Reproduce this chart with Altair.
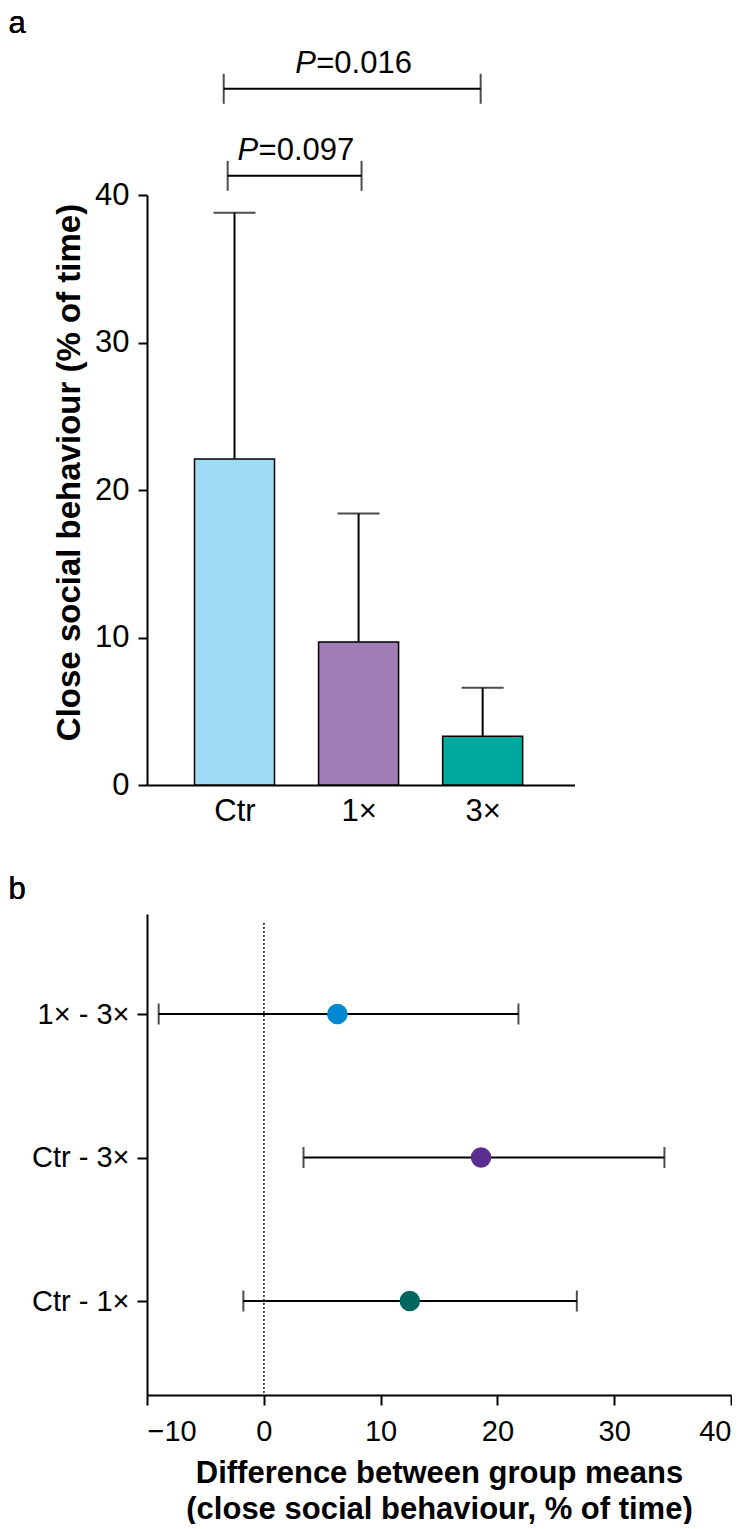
import altair as alt
import pandas as pd

FONT = "Liberation Sans, Arial, Helvetica, sans-serif"

# ---- panel a data ----
groups = ["Ctr", "1×", "3×"]
group_pos = [0, 1, 2]
means = [22.1, 9.7, 3.3]
upper = [38.8, 18.4, 6.6]
bar_colors = ["#A0DCF5", "#A27EB6", "#00A99D"]

bracket_text = ["=0.016", "=0.097"]
bracket_x1 = [-0.087, -0.055]
bracket_x2 = [1.984, 1.024]
bracket_y = [47.2, 41.3]

# ---- panel b data ----
comparisons = ["Ctr - 1×", "Ctr - 3×", "1× - 3×"]
comp_pos = [0, 1, 2]
diffs = [12.5, 18.6, 6.3]
ci_lo = [-1.75, 3.4, -9.0]
ci_hi = [26.8, 34.3, 21.8]
point_colors = ["#00665E", "#5C2D91", "#0288D1"]

A_W, A_H = 427.5, 590
B_W, B_H = 584, 481

df_a = pd.DataFrame({"pos": group_pos, "group": groups, "mean": means, "upper": upper})
df_br = pd.DataFrame({"x1": bracket_x1, "x2": bracket_x2, "y": bracket_y, "label": bracket_text})
df_b = pd.DataFrame({"pos": comp_pos, "comp": comparisons, "diff": diffs, "lo": ci_lo, "hi": ci_hi})

a_label_expr = "[" + ",".join("'%s'" % g for g in groups) + "][datum.value]"
b_label_expr = "[" + ",".join("'%s'" % c for c in comparisons) + "][datum.value]"

YT = "Close social behaviour (% of time)"
xa_scale = alt.Scale(domain=[-0.665, 2.70], nice=False, zero=False)
ya_scale = alt.Scale(domain=[0, 40], nice=False)
xa_axis = alt.Axis(values=group_pos, labelExpr=a_label_expr, ticks=False, tickSize=0,
                   labelPadding=11, labelFontSize=31, domainWidth=2, grid=False, title=None)
ya_axis = alt.Axis(values=[0, 10, 20, 30, 40], tickSize=9, tickWidth=2, labelFontSize=31,
                   labelPadding=9, title=YT, titleFontSize=33, titleY=277,
                   titleFontWeight="bold", titlePadding=8, domainWidth=2, grid=False)


def XA(f):
    return alt.X(f, type="quantitative", scale=xa_scale, axis=xa_axis, title=None)


def YA(f):
    return alt.Y(f, type="quantitative", scale=ya_scale, axis=ya_axis, title=YT)


bars = alt.Chart(df_a).mark_bar(size=80, stroke="black", strokeWidth=1.5).encode(
    x=XA("pos"), y=YA("mean"),
    color=alt.Color("group:N", scale=alt.Scale(domain=groups, range=bar_colors), legend=None),
)
err = alt.Chart(df_a).mark_rule(strokeWidth=2, color="black").encode(
    x=XA("pos"), y=YA("mean"), y2="upper:Q")
caps = alt.Chart(df_a).mark_tick(orient="horizontal", size=42, thickness=2, color="black").encode(
    x=XA("pos"), y=YA("upper"))

br_line = alt.Chart(df_br).mark_rule(strokeWidth=2, color="black").encode(
    x=XA("x1"), x2="x2:Q", y=YA("y"))
br_l = alt.Chart(df_br).mark_tick(orient="vertical", size=30, thickness=2, color="black").encode(
    x=XA("x1"), y=YA("y"))
br_r = alt.Chart(df_br).mark_tick(orient="vertical", size=30, thickness=2, color="black").encode(
    x=XA("x2"), y=YA("y"))
br_base = alt.Chart(df_br).transform_calculate(mid="(datum.x1 + datum.x2) / 2")
br_p = br_base.mark_text(text="P", align="left", baseline="alphabetic", dx=-57, dy=-16,
                         fontSize=31, fontStyle="italic", font=FONT, color="black").encode(
    x=XA("mid"), y=YA("y"))
br_t = br_base.mark_text(align="left", baseline="alphabetic", dx=-36, dy=-16,
                         fontSize=31, font=FONT, color="black").encode(
    x=XA("mid"), y=YA("y"), text="label:N")

label_a = alt.Chart(df_a).mark_text(text="a", align="left", baseline="alphabetic",
                                    fontSize=31, font=FONT, color="black").encode(
    x=alt.value(-138.5), y=alt.value(-162))

panel_a = alt.layer(bars, err, caps, br_line, br_l, br_r, br_p, br_t, label_a).properties(
    width=A_W, height=A_H)

# ---- panel b ----
xb_scale = alt.Scale(domain=[-10, 40], nice=False, zero=False)
yb_scale = alt.Scale(domain=[-0.655, 2.697], nice=False, zero=False)
XT = ["Difference between group means", "(close social behaviour, % of time)"]
xb_axis = alt.Axis(values=[-10, 0, 10, 20, 30, 40], tickSize=10, tickWidth=2, labelFontSize=29,
                   labelPadding=12, format="d", title=XT, titleFontSize=31, titleFontWeight="bold",
                   titleLineHeight=36, titlePadding=12, domainWidth=2, grid=False)
yb_axis = alt.Axis(values=comp_pos, labelExpr=b_label_expr, tickSize=10, tickWidth=2,
                   labelFontSize=29, labelPadding=8, title=None, domainWidth=2, grid=False)


def XB(f):
    return alt.X(f, type="quantitative", scale=xb_scale, axis=xb_axis, title=XT)


def YB(f):
    return alt.Y(f, type="quantitative", scale=yb_scale, axis=yb_axis, title=None)


zero_line = alt.Chart(df_b).mark_rule(strokeDash=[1.5, 2.5], strokeWidth=1.5, color="#333333").encode(
    x=alt.datum(0, scale=xb_scale), y=alt.value(9), y2=alt.value(B_H))
ci = alt.Chart(df_b).mark_rule(strokeWidth=2, color="black").encode(
    x=XB("lo"), x2="hi:Q", y=YB("pos"))
cap_lo = alt.Chart(df_b).mark_tick(orient="vertical", size=21, thickness=2, color="black").encode(
    x=XB("lo"), y=YB("pos"))
cap_hi = alt.Chart(df_b).mark_tick(orient="vertical", size=21, thickness=2, color="black").encode(
    x=XB("hi"), y=YB("pos"))
pts = alt.Chart(df_b).mark_circle(size=420, opacity=1).encode(
    x=XB("diff"), y=YB("pos"),
    color=alt.Color("comp:N", scale=alt.Scale(domain=comparisons, range=point_colors), legend=None),
)
label_b = alt.Chart(df_b).mark_text(text="b", align="left", baseline="alphabetic",
                                    fontSize=31, font=FONT, color="black").encode(
    x=alt.value(-138.5), y=alt.value(-15))

panel_b = alt.layer(zero_line, ci, cap_lo, cap_hi, pts, label_b).properties(width=B_W, height=B_H)

chart = alt.vconcat(panel_a, panel_b, spacing=48).resolve_scale(
    color="independent"
).properties(padding=0).configure_view(
    stroke=None
).configure_axis(
    labelFont=FONT, titleFont=FONT, labelColor="black", titleColor="black",
    domainColor="black", tickColor="black"
)

chart.save("out.html", embed_options={"renderer": "svg", "actions": False})
